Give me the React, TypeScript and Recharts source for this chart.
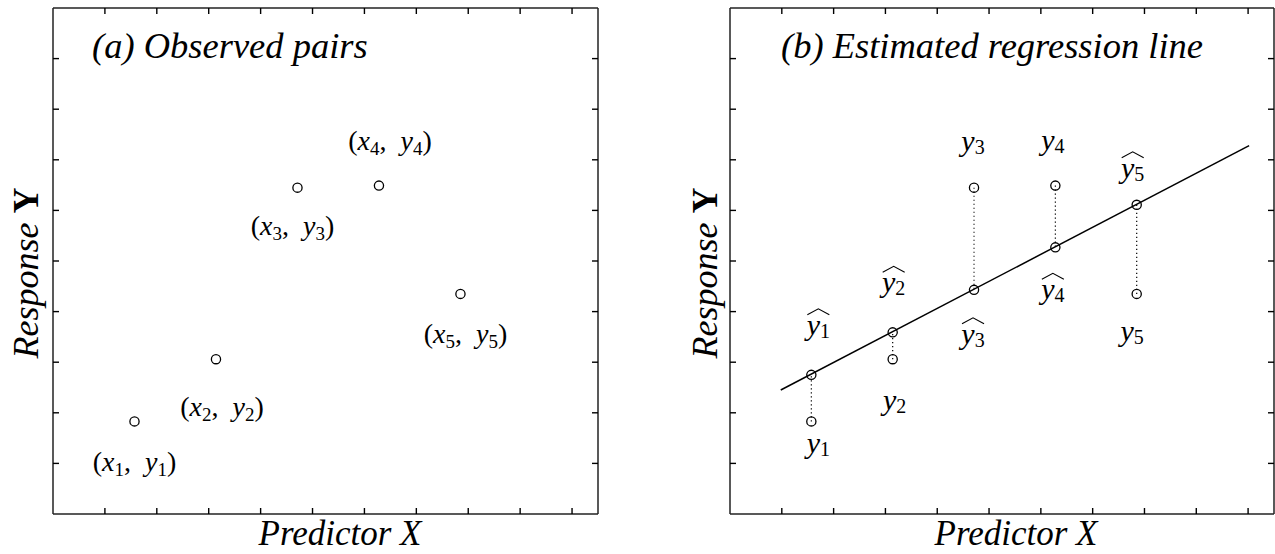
import React from 'react';
import { ScatterChart, Scatter, XAxis, YAxis, ReferenceLine } from 'recharts';

// ---- data ----
const X_VALUES = [1.57, 3.14, 4.71, 6.28, 7.85];
const Y_VALUES = [1.83, 3.06, 6.45, 6.49, 4.35];
const FITTED_VALUES = [2.75, 3.59, 4.43, 5.27, 6.11];
const LINE_X = [0.98, 10.02];
const LINE_Y = [2.45, 7.28];
const X_TICKS = [1, 2, 3, 4, 5, 6, 7, 8, 9, 10];
const Y_TICKS = [1, 2, 3, 4, 5, 6, 7, 8, 9];
const X_DOMAIN = [0, 10.5];
const Y_DOMAIN = [0, 10];
const SUBSCRIPTS = ['1', '2', '3', '4', '5'];
const TITLE_A = '(a) Observed pairs';
const TITLE_B = '(b) Estimated regression line';
const X_LABEL = 'Predictor X';
const Y_LABEL_WORD = 'Response ';
const Y_LABEL_VAR = 'Y';

// ---- layout (label offsets relative to each point: [dx, dy-baseline]) ----
const PAIR_LABEL_OFFSETS = [[0, 50], [6, 57], [-5, 47], [11, -36], [5, 49]];
const OBS_LABEL_OFFSETS = [[7, 32], [2, 51], [-1, -37], [-2.5, -36], [-4.5, 47]];
const FIT_LABEL_OFFSETS = [[7, -40], [1, -40], [-1, 54], [-2.5, 52], [-4, -27]];

const FONT = "'Liberation Serif', 'DejaVu Serif', serif";
const INK = '#000';

const pairsData = X_VALUES.map((x, i) => ({ x, y: Y_VALUES[i], i }));
const fittedData = X_VALUES.map((x, i) => ({ x, y: FITTED_VALUES[i], i }));

const R = 4.6;

const PairPoint = (props: any) => {
  const { cx, cy, payload } = props;
  if (cx == null || cy == null) return null;
  const i = payload.i;
  const [dx, dy] = PAIR_LABEL_OFFSETS[i];
  const s = SUBSCRIPTS[i];
  return (
    <g>
      <circle cx={cx} cy={cy} r={R} fill="none" stroke={INK} strokeWidth={1.3} />
      <text x={cx + dx} y={cy + dy} textAnchor="middle" fontFamily={FONT} fontSize={28} fill={INK}>
        <tspan>(</tspan>
        <tspan fontStyle="italic">x</tspan>
        <tspan fontSize={19} dy={5}>{s}</tspan>
        <tspan dy={-5}>,{'\u2002'}</tspan>
        <tspan fontStyle="italic">y</tspan>
        <tspan fontSize={19} dy={5}>{s}</tspan>
        <tspan dy={-5}>)</tspan>
      </text>
    </g>
  );
};

const YLabel = ({ x, y, s, hat }: { x: number; y: number; s: string; hat: boolean }) => (
  <g>
    {hat && (
      <path
        d={`M ${x - 11} ${y - 20} L ${x} ${y - 26} L ${x + 11} ${y - 20}`}
        fill="none"
        stroke={INK}
        strokeWidth={1.1}
      />
    )}
    <text x={x} y={y} textAnchor="middle" fontFamily={FONT} fontSize={30} fill={INK}>
      <tspan fontStyle="italic">y</tspan>
      <tspan fontSize={20} dy={3}>{s}</tspan>
    </text>
  </g>
);

const ObsPoint = (props: any) => {
  const { cx, cy, payload } = props;
  if (cx == null || cy == null) return null;
  const i = payload.i;
  const [dx, dy] = OBS_LABEL_OFFSETS[i];
  return (
    <g>
      <circle cx={cx} cy={cy} r={R} fill="none" stroke={INK} strokeWidth={1.3} />
      <YLabel x={cx + dx} y={cy + dy} s={SUBSCRIPTS[i]} hat={false} />
    </g>
  );
};

const FitPoint = (props: any) => {
  const { cx, cy, payload } = props;
  if (cx == null || cy == null) return null;
  const i = payload.i;
  const [dx, dy] = FIT_LABEL_OFFSETS[i];
  return (
    <g>
      <circle cx={cx} cy={cy} r={R} fill="none" stroke={INK} strokeWidth={1.3} />
      <YLabel x={cx + dx} y={cy + dy} s={SUBSCRIPTS[i]} hat={true} />
    </g>
  );
};

const axisLine = { stroke: '#222', strokeWidth: 1.5 };
const tickLine = { stroke: INK, strokeWidth: 1.4 };
const noText = () => '';

const frameAxes = (k: string) => [
  <XAxis
    key={k + 'xb'}
    xAxisId="b"
    type="number"
    dataKey="x"
    orientation="bottom"
    domain={X_DOMAIN}
    ticks={X_TICKS}
    height={1}
    mirror
    tickSize={6}
    tickFormatter={noText}
    axisLine={axisLine}
    tickLine={tickLine}
    allowDataOverflow
  />,
  <XAxis
    key={k + 'xt'}
    xAxisId="t"
    type="number"
    dataKey="x"
    orientation="top"
    domain={X_DOMAIN}
    ticks={X_TICKS}
    height={1}
    mirror
    tickSize={6}
    tickFormatter={noText}
    axisLine={axisLine}
    tickLine={tickLine}
    allowDataOverflow
  />,
  <YAxis
    key={k + 'yl'}
    yAxisId="l"
    type="number"
    dataKey="y"
    orientation="left"
    domain={Y_DOMAIN}
    ticks={Y_TICKS}
    width={1}
    mirror
    tickSize={6}
    tickFormatter={noText}
    axisLine={axisLine}
    tickLine={tickLine}
    allowDataOverflow
  />,
  <YAxis
    key={k + 'yr'}
    yAxisId="r"
    type="number"
    dataKey="y"
    orientation="right"
    domain={Y_DOMAIN}
    ticks={Y_TICKS}
    width={1}
    mirror
    tickSize={6}
    tickFormatter={noText}
    axisLine={axisLine}
    tickLine={tickLine}
    allowDataOverflow
  />,
];

export default function App() {
  return (
    <div style={{ position: 'absolute', left: 0, top: 0, width: 1275, height: 554, background: '#fff' }}>
      <div style={{ position: 'absolute', left: 0, top: 0 }}>
        <ScatterChart width={637} height={554} margin={{ top: 8, left: 53, right: 39, bottom: 40 }}>
          {frameAxes('a')}
          <Scatter
            data={pairsData}
            xAxisId="b"
            yAxisId="l"
            dataKey="y"
            shape={PairPoint}
            isAnimationActive={false}
          />
        </ScatterChart>
      </div>
      <div style={{ position: 'absolute', left: 640, top: 0 }}>
        <ScatterChart width={635} height={554} margin={{ top: 8, left: 90, right: 1, bottom: 40 }}>
          {frameAxes('b')}
          <ReferenceLine
            xAxisId="b"
            yAxisId="l"
            segment={[
              { x: LINE_X[0], y: LINE_Y[0] },
              { x: LINE_X[1], y: LINE_Y[1] },
            ]}
            stroke={INK}
            strokeWidth={1.5}
          />
          {X_VALUES.map((x, i) => (
            <ReferenceLine
              key={'res' + i}
              xAxisId="b"
              yAxisId="l"
              segment={[
                { x, y: Y_VALUES[i] },
                { x, y: FITTED_VALUES[i] },
              ]}
              stroke={INK}
              strokeWidth={1.2}
              strokeDasharray="1.2 2.8"
            />
          ))}
          <Scatter
            data={pairsData}
            xAxisId="b"
            yAxisId="l"
            dataKey="y"
            shape={ObsPoint}
            isAnimationActive={false}
          />
          <Scatter
            data={fittedData}
            xAxisId="b"
            yAxisId="l"
            dataKey="y"
            shape={FitPoint}
            isAnimationActive={false}
          />
        </ScatterChart>
      </div>
      <svg
        width={1275}
        height={554}
        style={{ position: 'absolute', left: 0, top: 0, pointerEvents: 'none' }}
      >
        <text x={92} y={58} fontSize={36.5} fontStyle="italic" fill={INK} fontFamily={FONT}>
          {TITLE_A}
        </text>
        <text x={781} y={58} fontSize={36.5} fontStyle="italic" fill={INK} fontFamily={FONT}>
          {TITLE_B}
        </text>
        <text x={340} y={545} fontSize={35} fontStyle="italic" textAnchor="middle" fill={INK} fontFamily={FONT}>
          {X_LABEL}
        </text>
        <text x={1016} y={545} fontSize={35} fontStyle="italic" textAnchor="middle" fill={INK} fontFamily={FONT}>
          {X_LABEL}
        </text>
        <text
          x={0}
          y={0}
          transform="translate(38 273) rotate(-90)"
          fontSize={36}
          textAnchor="middle"
          fill={INK}
          fontFamily={FONT}
        >
          <tspan fontStyle="italic">{Y_LABEL_WORD}</tspan>
          <tspan fontWeight="bold">{Y_LABEL_VAR}</tspan>
        </text>
        <text
          x={0}
          y={0}
          transform="translate(717 273) rotate(-90)"
          fontSize={36}
          textAnchor="middle"
          fill={INK}
          fontFamily={FONT}
        >
          <tspan fontStyle="italic">{Y_LABEL_WORD}</tspan>
          <tspan fontWeight="bold">{Y_LABEL_VAR}</tspan>
        </text>
      </svg>
    </div>
  );
}
